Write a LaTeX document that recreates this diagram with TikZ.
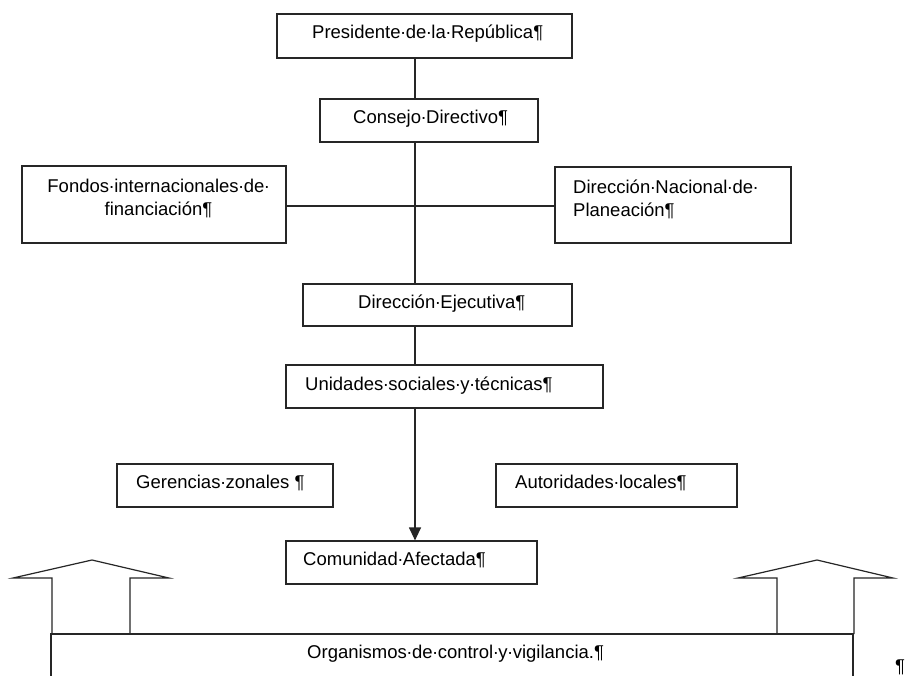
\documentclass[tikz,border=0pt]{standalone}
\usepackage{fontspec}
\setmainfont{Liberation Sans}
\usetikzlibrary{arrows.meta}
% visible space mark, as shown with formatting marks on
\newcommand\wsp{\makebox[0.278em]{·}}

\begin{document}
\begin{tikzpicture}[
  x=1pt, y=-1pt,
  box/.style={draw=black!85, line width=1.2pt, inner sep=0pt, rectangle},
  lbl/.style={inner sep=0pt, text=black, font=\fontsize{18.5}{23}\selectfont},
  conn/.style={draw=black!85, line width=1.2pt},
  blockarrow/.style={draw=black!85, line width=1.2pt, line join=miter}
]
\useasboundingbox (0,0) rectangle (907,675);
\clip (0,0) rectangle (907,675);
\fill[white] (0,0) rectangle (907,675);

% main vertical spine and the crossing bar
\coordinate (spine) at (415,0);
\coordinate (hl) at (415,206);

% boxes
\node[box, minimum width=295pt, minimum height=44pt] (pres)   at (424.5,36)  {};
\node[box, minimum width=218pt, minimum height=43pt] (cons)   at (429,120.5) {};
\node[box, minimum width=264pt, minimum height=77pt] (fondos) at (154,204.5) {};
\node[box, minimum width=236pt, minimum height=76pt] (dnp)    at (673,205)   {};
\node[box, minimum width=269pt, minimum height=42pt] (ejec)   at (437.5,305) {};
\node[box, minimum width=317pt, minimum height=43pt] (unid)   at (444.5,386.5) {};
\node[box, minimum width=216pt, minimum height=43pt] (ger)    at (225,485.5) {};
\node[box, minimum width=241pt, minimum height=43pt] (aut)    at (616.5,485.5) {};
\node[box, minimum width=251pt, minimum height=43pt] (com)    at (411.5,562.5) {};
\node[box, minimum width=802pt, minimum height=70pt] (org)    at (452,669)   {};

% texts
\node[lbl, anchor=base west] (presT) at (312,38)  {Presidente\wsp de\wsp la\wsp República¶};
\node[lbl, anchor=base west] (consT) at (353,123) {Consejo\wsp Directivo¶};
\node[lbl, anchor=north, align=center] (fondosT) at (158.5,178.5)
  {Fondos\wsp internacionales\wsp de\wsp\\financiación¶};
\node[lbl, anchor=north west, align=left] (dnpT) at (573,179.5)
  {Dirección\wsp Nacional\wsp de\wsp\\Planeación¶};
\node[lbl, anchor=base west] (ejecT) at (358,308) {Dirección\wsp Ejecutiva¶};
\node[lbl, anchor=base west] (unidT) at (305,390) {Unidades\wsp sociales\wsp y\wsp técnicas¶};
\node[lbl, anchor=base west] (gerT)  at (136,488) {Gerencias\wsp zonales\hspace{0.278em}¶};
\node[lbl, anchor=base west] (autT)  at (515,488) {Autoridades\wsp locales¶};
\node[lbl, anchor=base west] (comT)  at (303,565) {Comunidad\wsp Afectada¶};
\node[lbl, anchor=base west] (orgT)  at (307,658) {Organismos\wsp de\wsp control\wsp y\wsp vigilancia.¶};
\node[lbl, anchor=base west] (endmark) at (895,672) {¶};

% connectors
\draw[conn] (pres.south -| spine) -- (cons.north -| spine);
\draw[conn] (cons.south -| spine) -- (ejec.north -| spine);
\draw[conn] (hl -| fondos.east) -- (hl -| dnp.west);
\draw[conn] (ejec.south -| spine) -- (unid.north -| spine);
\draw[conn, -{Triangle[length=13pt,width=12pt]}] (unid.south -| spine) -- (com.north -| spine);

% upward block arrows standing on the control box
\draw[blockarrow] (52,634) -- (52,578) -- (13,578) -- (92,560) -- (169,578) -- (130,578) -- (130,634);
\draw[blockarrow] (777,634) -- (777,578) -- (738,578) -- (817,560) -- (893,578) -- (854,578) -- (854,634);
\end{tikzpicture}
\end{document}
